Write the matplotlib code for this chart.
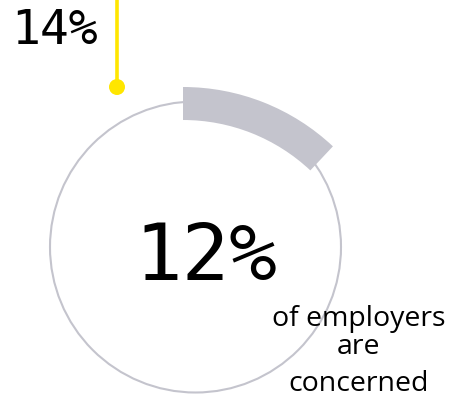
import matplotlib
matplotlib.use("Agg")
import matplotlib.pyplot as plt
from matplotlib.patches import Circle, Wedge

# Share of employers concerned, plus the callout figure
concerned_pct = [12]
callout_pct = [14]
caption_lines = ["of employers", "are", "concerned"]

EY_GRAY = "#c4c4cd"
EY_YELLOW = "#ffe600"

W, H = 452, 394
fig = plt.figure(figsize=(W / 100, H / 100), dpi=100)
ax = fig.add_axes([0, 0, 1, 1])
ax.set_xlim(0, W)
ax.set_ylim(0, H)
ax.set_aspect("equal")
ax.axis("off")

# thin outline ring
ax.add_patch(Circle((195.5, 147), 145.5, fill=False, edgecolor=EY_GRAY,
                    linewidth=1.5))

# thick segment, clockwise from 12 o'clock
span = 360 * concerned_pct[0] / 100
ax.add_patch(Wedge((183, 88), 219, 90 - span, 90, width=33,
                   facecolor=EY_GRAY, edgecolor="none"))

# yellow callout pin
ax.plot([117, 117], [H, 307], color=EY_YELLOW, linewidth=2.6,
        solid_capstyle="butt")
ax.add_patch(Circle((117, 307), 8, facecolor=EY_YELLOW, edgecolor="none"))

num_font = "DejaVu Sans Mono"
ax.text(11, 350, f"{callout_pct[0]}%", fontsize=34.6, family=num_font,
        ha="left", va="baseline", color="black")
ax.text(134, 114, f"{concerned_pct[0]}%", fontsize=57, family=num_font,
        ha="left", va="baseline", color="black")

caption_baselines = [326, 354, 391]
for line, y in zip(caption_lines, caption_baselines):
    ax.text(359, H - y, line, fontsize=20.5, family="Open Sans",
            ha="center", va="baseline", color="black")

fig.savefig("out.png", dpi=100)
